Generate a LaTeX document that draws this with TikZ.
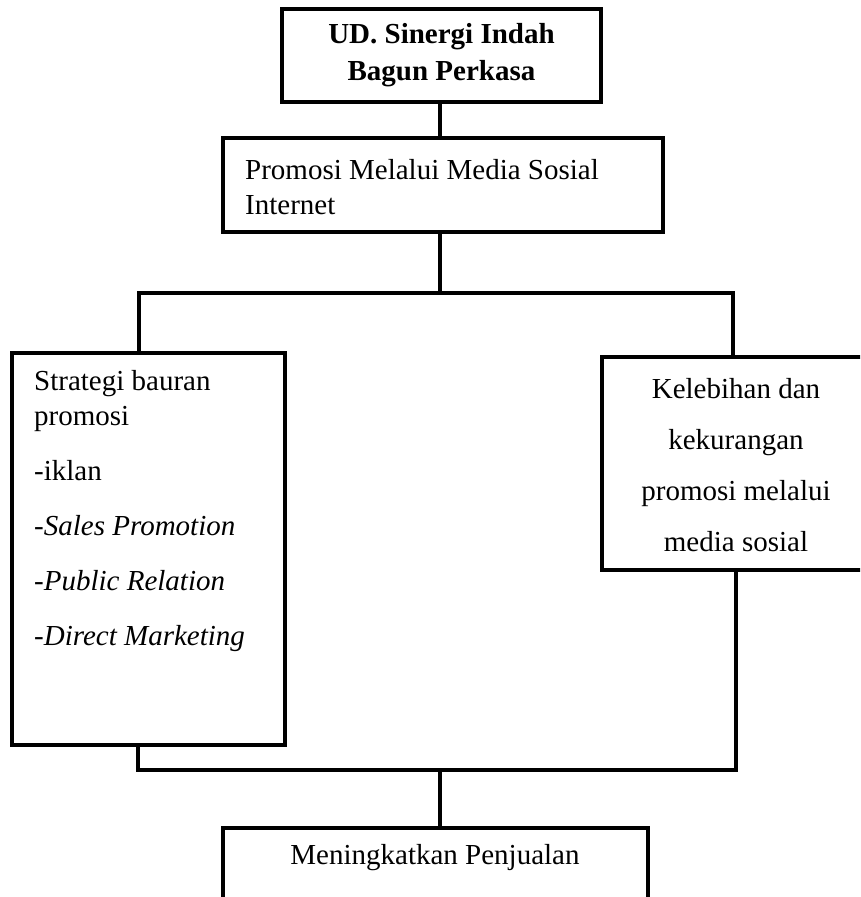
\documentclass[tikz,border=0pt]{standalone}
\usepackage{fontspec}
\setmainfont{Liberation Serif}
\begin{document}
\begin{tikzpicture}[x=1pt,y=-1pt,
  box/.style={draw, line width=3.2pt, inner sep=0pt, rectangle},
  conn/.style={line width=3.2pt},
  txt/.style={inner sep=0pt, font=\fontsize{29}{35}\selectfont}]
\path[use as bounding box, clip] (0,0) rectangle (860,897);
% boxes
\node[box, minimum width=319pt, minimum height=93pt, align=center,
      font=\fontsize{29}{37}\selectfont\bfseries] (top) at (441.5,55.5) {UD. Sinergi Indah\\Bagun Perkasa};
\node[box, minimum width=440pt, minimum height=94pt] (promo) at (443,185) {};
\node[txt, anchor=west, align=left] (promotxt) at (245,187.5) {Promosi Melalui Media Sosial\\Internet};
\node[box, minimum width=273pt, minimum height=392pt] (left) at (148.5,549) {};
\node[txt, anchor=north west, align=left] (lefttxt) at (34,370)
  {Strategi bauran\\promosi\\[20pt]-iklan\\[20pt]-\textit{Sales Promotion}\\[20pt]-\textit{Public Relation}\\[20pt]-\textit{Direct Marketing}};
\node[box, minimum width=278pt, minimum height=213pt] (right) at (741,463.5) {};
\node[txt, align=center, font=\fontsize{29}{51}\selectfont] (righttxt) at (736,465)
  {Kelebihan dan\\kekurangan\\promosi melalui\\media sosial};
\node[box, minimum width=425pt, minimum height=102pt] (bottom) at (435.5,879) {};
\node[txt] (bottomtxt) at (435,858) {Meningkatkan Penjualan};
% junctions
\coordinate (bus1) at (440,293);
\coordinate (bus1L) at (139,293);
\coordinate (bus1R) at (733,293);
\coordinate (bus2) at (440,770);
\coordinate (bus2L) at (138,770);
\coordinate (bus2R) at (736,770);
% connectors
\draw[conn] (top.south -| bus1) -- (promo.north -| bus1);
\draw[conn] (promo.south -| bus1) -- (bus1);
\draw[conn] (left.north -| bus1L) -- (bus1L) -- (bus1R) -- (right.north -| bus1R);
\draw[conn] (left.south -| bus2L) -- (bus2L) -- (bus2R) -- (right.south -| bus2R);
\draw[conn] (bus2) -- (bottom.north -| bus2);
\end{tikzpicture}
\end{document}
